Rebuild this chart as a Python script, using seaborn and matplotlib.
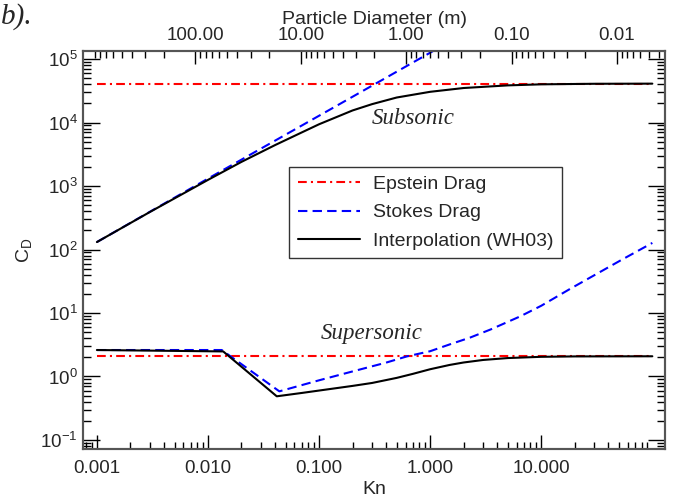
import numpy as np
import pandas as pd
import matplotlib
matplotlib.use("Agg")
import matplotlib.pyplot as plt
import seaborn as sns
from matplotlib.ticker import (FixedLocator, FormatStrFormatter, LogLocator, NullFormatter,
                               LogFormatterSciNotation)

# ── Data ───────────────────────────────────────────────────────────────────
kn_epstein = [0.001, 100.0]
cd_epstein_sub = [4.1e4, 4.1e4]
cd_epstein_sup = [2.08, 2.08]

kn_stokes_sub = [0.001, 0.01, 0.1, 1.0, 1.3]
cd_stokes_sub = [131, 1310, 1.28e4, 1.26e5, 1.64e5]

kn_stokes_sup = [0.001, 0.0133, 0.0439, 0.1, 0.2, 0.4, 0.617, 1.0, 1.5, 2.29,
                 3.5, 6.47, 10.0, 18.2, 51.5, 100.0]
cd_stokes_sup = [2.61, 2.61, 0.583, 0.87, 1.2, 1.65, 2.07, 2.5, 3.2, 4.1,
                 5.5, 8.85, 13.0, 24.0, 67.0, 127.0]

kn_interp_sub = [0.001, 0.003, 0.01, 0.02, 0.04, 0.07, 0.1, 0.2, 0.3, 0.5,
                 1.0, 2.0, 5.0, 10.0, 30.0, 100.0]
cd_interp_sub = [131, 390, 1250, 2400, 4400, 7000, 9400, 15500, 19500, 24800,
                 30500, 35000, 38500, 40000, 40800, 41000]

kn_interp_sup = [0.001, 0.0137, 0.0416, 0.07, 0.1, 0.2, 0.3, 0.5, 0.7, 1.0,
                 1.5, 2.0, 3.0, 5.0, 10.0, 20.0, 100.0]
cd_interp_sup = [2.61, 2.48, 0.487, 0.55, 0.60, 0.71, 0.79, 0.95, 1.10, 1.30,
                 1.52, 1.66, 1.82, 1.95, 2.04, 2.07, 2.08]

kn_ticks = [0.001, 0.01, 0.1, 1.0, 10.0]
cd_ticks = [1e-1, 1e0, 1e1, 1e2, 1e3, 1e4, 1e5]
diam_ticks = [100.0, 10.0, 1.0, 0.1, 0.01]

# ── Style ──────────────────────────────────────────────────────────────────
sns.set_theme(style="ticks")
plt.rcParams["font.family"] = ["Liberation Sans", "DejaVu Sans"]
plt.rcParams["mathtext.fontset"] = "custom"
plt.rcParams["mathtext.rm"] = "Liberation Sans"
plt.rcParams["mathtext.it"] = "Liberation Sans:italic"

spine_col = "#555555"
red = "#ff0000"
blue = "#0000ff"
serif = ["Liberation Serif", "DejaVu Serif"]
epstein_ls = (0, (4.2, 2.0, 1.0, 2.0))
stokes_ls = (0, (4.5, 2.5))

fig = plt.figure(figsize=(7, 5), dpi=100)
ax = fig.add_axes([0.1186, 0.102, 0.8314, 0.796])


def draw(kn, cd, **kw):
    df = pd.DataFrame({"Kn": kn, "CD": cd})
    sns.lineplot(data=df, x="Kn", y="CD", ax=ax, estimator=None, sort=False, **kw)


draw(kn_epstein, cd_epstein_sub, color=red, lw=1.5, linestyle=epstein_ls, label="Epstein Drag")
draw(kn_stokes_sub, cd_stokes_sub, color=blue, lw=1.5, linestyle=stokes_ls, label="Stokes Drag")
draw(kn_interp_sub, cd_interp_sub, color="black", lw=1.5, label="Interpolation (WH03)")
draw(kn_epstein, cd_epstein_sup, color=red, lw=1.5, linestyle=epstein_ls)
draw(kn_stokes_sup, cd_stokes_sup, color=blue, lw=1.5, linestyle=stokes_ls)
draw(kn_interp_sup, cd_interp_sup, color="black", lw=1.5)

ax.set_xscale("log")
ax.set_yscale("log")
ax.set_xlim(0.00075, 130)
ax.set_ylim(0.072, 1.34e5)

ax.xaxis.set_major_locator(FixedLocator(kn_ticks))
ax.xaxis.set_major_formatter(FormatStrFormatter("%.3f"))
ax.xaxis.set_minor_locator(LogLocator(base=10, subs=np.arange(2, 10)))
ax.xaxis.set_minor_formatter(NullFormatter())
ax.yaxis.set_major_locator(FixedLocator(cd_ticks))
ax.yaxis.set_major_formatter(LogFormatterSciNotation())
ax.yaxis.set_minor_locator(LogLocator(base=10, subs=np.arange(2, 10), numticks=20))
ax.yaxis.set_minor_formatter(NullFormatter())

ax.tick_params(axis="x", which="major", direction="in", length=10, width=1, labelsize=13.5,
               pad=8, top=False, color="black")
ax.tick_params(axis="x", which="minor", direction="in", length=5, width=1, top=False, color="black")
ax.tick_params(axis="y", which="major", direction="in", length=12, width=1, labelsize=13.5,
               pad=4, right=True, color="black")
ax.tick_params(axis="y", which="minor", direction="in", length=6, width=1, right=True, color="black")

ax.set_xlabel("Kn", fontsize=14, labelpad=3)
ax.set_ylabel("C$_\\mathregular{D}$", fontsize=14, labelpad=4)

for sp in ax.spines.values():
    sp.set_color(spine_col)
    sp.set_linewidth(1.5)

# Top axis: particle diameter
ax2 = ax.twiny()
ax2.set_xscale("log")
ax2.set_xlim(1166, 0.0035)
ax2.xaxis.set_major_locator(FixedLocator(diam_ticks))
ax2.xaxis.set_major_formatter(FormatStrFormatter("%.2f"))
ax2.xaxis.set_minor_locator(LogLocator(base=10, subs=np.arange(2, 10)))
ax2.xaxis.set_minor_formatter(NullFormatter())
ax2.tick_params(axis="x", which="major", direction="in", length=9, width=1, labelsize=13.5,
                pad=5, color="black")
ax2.tick_params(axis="x", which="minor", direction="in", length=5, width=1, color="black")
ax2.set_xlabel("Particle Diameter (m)", fontsize=14, labelpad=2)
for sp in ax2.spines.values():
    sp.set_color(spine_col)
    sp.set_linewidth(1.5)

leg = ax.legend(loc="center", bbox_to_anchor=(0.5885, 0.594), fontsize=14, frameon=True,
                fancybox=False, edgecolor="black", handlelength=3.2, labelspacing=0.55,
                borderpad=0.45, handletextpad=0.65, borderaxespad=0)
leg.get_frame().set_linewidth(1.0)

ax.text(0.71, 9400, "Subsonic", fontsize=16.5, style="italic", ha="center", va="baseline",
        family=serif)
ax.text(0.295, 3.93, "Supersonic", fontsize=16.5, style="italic", ha="center", va="baseline",
        family=serif)
fig.text(0.002, 0.952, "b).", fontsize=21, style="italic", ha="left", va="baseline",
         family=serif)

fig.savefig("out.png", dpi=100)
